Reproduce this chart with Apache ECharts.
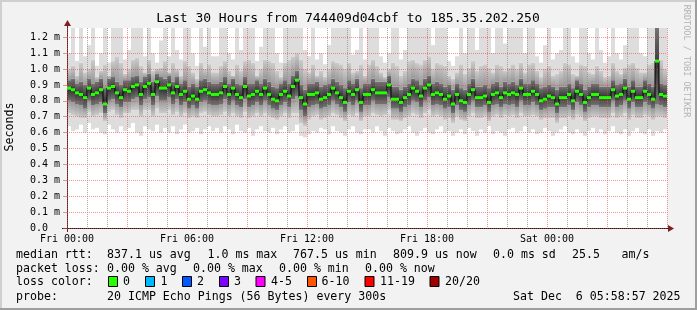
<!DOCTYPE html>
<html><head><meta charset="utf-8">
<script src="https://cdn.jsdelivr.net/npm/echarts@6/dist/echarts.min.js"></script>
<style>html,body{margin:0;padding:0;background:#f2f2f2}#c{width:697px;height:310px}</style>
</head><body><div id="c"></div>
<script>
// ---- data (values in microseconds, one column every 12 minutes over 30 hours) ----
const STEP_H = 0.2;
const xTickLabels = ['Fri 00:00','Fri 06:00','Fri 12:00','Fri 18:00','Sat 00:00'];
const yTickLabels = ['0.0  ','0.1 m','0.2 m','0.3 m','0.4 m','0.5 m','0.6 m','0.7 m','0.8 m','0.9 m','1.0 m','1.1 m','1.2 m'];
const median = [880,870,850,840,820,880,840,850,870,780,880,890,850,820,870,860,890,900,840,890,910,840,920,880,880,900,850,890,840,860,810,830,810,860,870,850,840,
840,850,890,840,880,840,820,890,830,840,860,840,880,840,810,800,840,860,830,890,930,820,780,840,840,850,810,820,840,880,850,820,790,860,840,870,790,840,
840,870,850,850,850,900,810,810,790,820,840,880,860,830,880,900,840,850,840,810,830,780,840,800,790,840,870,820,820,830,790,840,850,820,850,840,850,840,
880,840,840,860,840,800,810,830,820,780,820,820,840,800,860,840,790,820,840,840,820,820,820,870,830,840,880,810,860,820,820,860,840,810,1050,840,830];
const smokeMax = [1100,1258,1050,1258,1080,1150,1258,1020,1100,1258,1040,1258,1258,1258,1060,1120,1258,1258,1258,1080,1258,1100,1040,1180,1258,1080,1258,1120,1060,1258,1258,1100,1020,1258,1140,1258,1080,
1080,1258,1258,1100,1060,1258,1120,1258,1258,1258,1050,1140,1258,1258,1258,1100,1040,1258,1258,1258,1258,1258,1120,1080,1258,1060,1100,1030,1150,1258,1258,1258,1258,1258,1090,1120,1258,1060,
1258,1258,1258,1080,1040,1100,1258,1258,1060,1120,1258,1258,1258,1258,1258,1258,1150,1258,1258,1258,1050,1020,1080,1258,1100,1258,1258,1120,1258,1258,1258,1100,1258,1258,1160,1258,1258,1258,
1258,1100,1258,1258,1080,1040,1150,1258,1060,1100,1120,1258,1258,1080,1040,1258,1258,1100,1060,1258,1120,1040,1080,1258,1100,1060,1150,1258,1258,1258,1100,1080,1258,1258,1258,1258,1258];
const smokeHi = [1000,1020,960,1040,980,1000,1060,950,990,1030,960,1050,1080,1040,970,1000,1060,1070,1020,980,1060,990,1000,1010,1050,980,1040,1000,960,1050,1020,980,940,1040,1000,1030,980,
980,1020,1050,990,960,1030,990,1050,1060,1040,960,1000,1060,1050,1040,990,950,1040,1060,1080,1100,1060,1000,980,1030,960,990,950,1000,1050,1040,1030,1000,1040,980,990,1030,960,
1030,1060,1020,980,950,1000,1040,1020,960,990,1050,1060,1040,1030,1060,1080,1000,1040,1030,1020,960,940,980,1030,970,1010,1050,990,1020,1030,1010,980,1030,1020,990,1010,1030,1000,
1040,980,1030,1040,990,950,1000,1020,960,970,990,1040,1030,970,960,1030,1020,980,970,1020,990,950,960,1040,990,970,1010,1030,1040,1010,980,980,1030,1040,1258,1060,1000];
const coreHi = [930,940,910,920,900,940,910,920,940,880,940,950,920,900,930,930,950,960,920,950,970,920,970,950,940,960,920,950,910,930,890,910,890,930,940,920,910,
910,920,950,910,940,910,900,950,910,910,930,910,940,920,890,880,910,930,910,960,990,900,870,910,910,920,890,900,910,940,920,900,880,930,910,940,880,910,
910,940,920,920,920,960,890,890,870,890,910,940,930,900,940,960,910,920,910,890,900,870,910,880,870,910,940,890,890,900,880,910,920,890,920,910,920,900,
940,910,910,930,910,880,890,900,890,870,890,890,910,880,930,910,870,890,910,910,890,890,890,930,900,910,940,890,930,890,890,930,910,890,1258,910,900];
const coreLo = [800,790,780,770,750,800,770,780,790,720,800,810,780,760,790,790,810,820,770,810,820,770,830,800,800,820,780,810,770,790,750,770,750,790,800,780,770,
770,780,810,770,800,770,760,810,760,770,790,770,800,770,750,740,770,790,760,810,830,740,700,760,770,780,750,760,770,800,780,760,730,790,770,800,730,770,
770,800,780,780,780,820,750,750,730,760,770,800,790,760,800,820,770,780,770,750,760,720,770,740,730,770,800,760,760,770,730,770,780,760,780,770,780,760,
800,770,770,790,770,740,750,760,760,720,760,760,770,740,790,770,730,760,770,770,760,760,760,800,760,770,800,750,790,760,760,790,770,750,780,770,760];
const smokeLo = [720,710,700,690,690,730,700,710,720,670,730,740,710,690,720,720,740,740,700,740,740,700,750,720,720,740,710,730,700,720,690,700,690,720,730,710,700,
700,710,730,700,720,700,690,730,690,700,720,700,720,700,690,680,700,720,690,720,720,660,640,680,700,710,680,690,700,720,710,690,670,710,700,720,670,700,
700,720,710,700,710,740,680,680,670,690,700,720,710,690,720,740,700,710,700,680,690,660,700,680,670,700,720,690,690,700,670,700,710,690,710,700,710,690,
720,700,700,710,700,680,690,690,690,660,690,690,700,680,710,700,670,690,700,700,690,690,690,720,690,700,720,680,710,690,690,710,700,680,700,700,690];
const smokeMin = [640,610,620,650,600,660,620,630,600,590,650,620,600,640,610,630,660,600,580,640,620,610,650,600,630,600,640,590,620,650,600,610,630,590,620,640,610,
630,600,640,620,590,650,610,600,630,580,620,640,610,600,630,590,620,640,600,610,650,580,570,590,610,600,630,620,590,640,610,600,580,620,640,600,590,620,
620,600,640,610,580,630,610,590,600,620,640,600,580,610,630,600,590,620,640,600,610,580,600,620,590,630,610,580,620,600,640,590,610,600,580,620,630,600,
610,640,600,620,590,600,630,610,580,600,620,640,600,590,620,600,580,610,630,600,620,590,610,640,600,590,620,580,610,630,600,590,620,580,610,600,620];
const lossColors = ['#26ff00','#00b8ff','#0059ff','#7e00ff','#ff00ff','#ff5500','#ff0000','#a10000'];
const lossLabels = ['0','1','2','3','4-5','6-10','11-19','20/20'];

// ---- styling ----
const FONT = '"DejaVu Sans Mono", monospace';
const MGRID = 'rgba(222,79,79,0.6)';
const GRID = 'rgba(143,143,143,0.75)';

const smokeData = median.map((m, i) => [i * STEP_H, smokeMin[i], smokeLo[i], coreLo[i], coreHi[i], smokeHi[i], smokeMax[i]]);
const medLine = median.map((m, i) => [i * STEP_H, m]);
medLine.push([median.length * STEP_H, median[median.length - 1]]);
const medData = median.map((m, i) => [i * STEP_H, m]);

function lg(stops) {
  return new echarts.graphic.LinearGradient(0, 0, 0, 1, stops.map((c, k) => ({offset: k / (stops.length - 1), color: c})));
}
function canvasItem(params, api) {
  const cs = params.coordSys;
  return {type: 'rect', shape: {x: cs.x, y: cs.y, width: cs.width, height: cs.height}, style: {fill: '#ffffff'}};
}
function smokeItem(params, api) {
  const t = api.value(0);
  const xa = api.coord([t, 0])[0], xb = api.coord([t + STEP_H, 0])[0];
  const Y = k => api.coord([t, api.value(k)])[1];
  const R = (y1, y2, fill) => ({type: 'rect', shape: {x: xa, y: Math.min(y1, y2), width: xb - xa, height: Math.abs(y2 - y1)}, style: {fill}});
  return {type: 'group', children: [
    R(Y(1), Y(2), '#dddddd'),
    R(Y(2), Y(3), lg(['#989898', '#cccccc'])),
    R(Y(3), Y(4), lg(['#747474', '#363636', '#747474'])),
    R(Y(4), Y(5), lg(['#cccccc', '#989898'])),
    R(Y(5), Y(6), '#dddddd')
  ]};
}
function medItem(params, api) {
  const t = api.value(0);
  const xa = api.coord([t, 0])[0], xb = api.coord([t + STEP_H, 0])[0];
  const y = api.coord([t, api.value(1)])[1];
  return {type: 'rect', shape: {x: xa, y: y - 1.5, width: xb - xa, height: 3}, style: {fill: lossColors[0]}};
}

const T = (x, y, text, extra) => ({type: 'text', x, y, style: Object.assign({text, font: '11.6px ' + FONT, fill: '#000', align: 'left', verticalAlign: 'middle'}, extra || {})});
const graphics = [
  {type: 'rect', shape: {x: 0, y: 0, width: 697, height: 2}, style: {fill: '#cfcfcf'}},
  {type: 'rect', shape: {x: 0, y: 0, width: 2, height: 310}, style: {fill: '#cfcfcf'}},
  {type: 'rect', shape: {x: 0, y: 308, width: 697, height: 2}, style: {fill: '#9e9e9e'}},
  {type: 'rect', shape: {x: 695, y: 0, width: 2, height: 310}, style: {fill: '#9e9e9e'}},
  {type: 'line', shape: {x1: 67.5, y1: 232, x2: 67.5, y2: 24}, style: {stroke: '#5a2525', lineWidth: 1}},
  {type: 'polygon', shape: {points: [[64, 26], [71, 26], [67.5, 20]]}, style: {fill: '#801f1f'}},
  {type: 'line', shape: {x1: 62, y1: 228.5, x2: 669, y2: 228.5}, style: {stroke: '#1f1f1f', lineWidth: 1}},
  {type: 'polygon', shape: {points: [[668, 225], [668, 232], [674, 228.5]]}, style: {fill: '#801f1f'}},
  T(348, 19, 'Last 30 Hours from 744409d04cbf to 185.35.202.250', {font: '13px ' + FONT, align: 'center'}),
  Object.assign(T(10, 127, 'Seconds', {align: 'center'}), {rotation: Math.PI / 2}),
  Object.assign(T(686, 61, 'RRDTOOL / TOBI OETIKER', {font: '8.5px ' + FONT, align: 'center', fill: '#b4b4b4'}), {rotation: -Math.PI / 2})
];
const rows = [
  [254.5, [[16, 'median rtt:'], [107, '837.1 us avg'], [207.5, '1.0 ms max'], [293, '767.5 us min'], [393, '809.9 us now'], [493, '0.0 ms sd'], [572, '25.5'], [621.5, 'am/s']]],
  [268.5, [[16, 'packet loss:'], [107, '0.00 % avg'], [193, '0.00 % max'], [279, '0.00 % min'], [365, '0.00 % now']]],
  [282, [[16, 'loss color:']]],
  [296.5, [[16, 'probe:'], [107, '20 ICMP Echo Pings (56 Bytes) every 300s'], [513, 'Sat Dec  6 05:58:57 2025']]]
];
rows.forEach(([y, items]) => items.forEach(([x, s]) => graphics.push(T(x, y, s))));
const boxX = [108.5, 145.5, 182.5, 219.5, 256, 307.5, 365, 430];
const boxLabelX = [123, 160.5, 197, 234, 271, 321.5, 380, 445];
lossColors.forEach((c, k) => {
  graphics.push({type: 'rect', shape: {x: boxX[k], y: 276.5, width: 9, height: 10}, style: {fill: c, stroke: '#000', lineWidth: 1}});
  graphics.push(T(boxLabelX[k], 282, lossLabels[k]));
});

const chart = echarts.init(document.getElementById('c'), null, {renderer: 'canvas'});
chart.setOption({
  backgroundColor: '#f2f2f2',
  animation: false,
  grid: {left: 67, top: 28, width: 600, height: 200, show: false},
  xAxis: {
    type: 'value', min: 0, max: 30, interval: 1,
    axisLine: {show: false}, axisTick: {show: false},
    axisLabel: {fontFamily: FONT, fontSize: 10, color: '#000', margin: 6,
      formatter: v => (v % 6 === 0 && xTickLabels[v / 6]) ? xTickLabels[v / 6] : ''},
    splitLine: {show: true, lineStyle: {color: [MGRID, GRID, GRID], type: [1, 1], width: 1}}
  },
  yAxis: {
    type: 'value', min: 0, max: 1258, interval: 100,
    axisLine: {show: false},
    axisTick: {show: true, length: 4, lineStyle: {color: MGRID}},
    axisLabel: {fontFamily: FONT, fontSize: 10, color: '#000', margin: 7, showMaxLabel: false,
      formatter: v => (v % 100 === 0 && yTickLabels[v / 100]) ? yTickLabels[v / 100] : ''},
    splitLine: {show: true, showMaxLine: false, lineStyle: {color: MGRID, type: [1, 1], width: 1}}
  },
  series: [
    {type: 'custom', z: -2, renderItem: canvasItem, data: [[0, 0]], encode: {x: 0, y: 1}, clip: false, silent: true},
    {type: 'custom', z: -1, renderItem: smokeItem, data: smokeData, encode: {x: 0, y: [1, 2, 3, 4, 5, 6]}, clip: true, silent: true},
    {type: 'line', z: 3, step: 'end', data: medLine, showSymbol: false, symbol: 'none', lineStyle: {color: '#000', width: 1}, silent: true},
    {type: 'custom', z: 4, renderItem: medItem, data: medData, encode: {x: 0, y: 1}, clip: true, silent: true}
  ],
  graphic: graphics
});
</script>
</body></html>
